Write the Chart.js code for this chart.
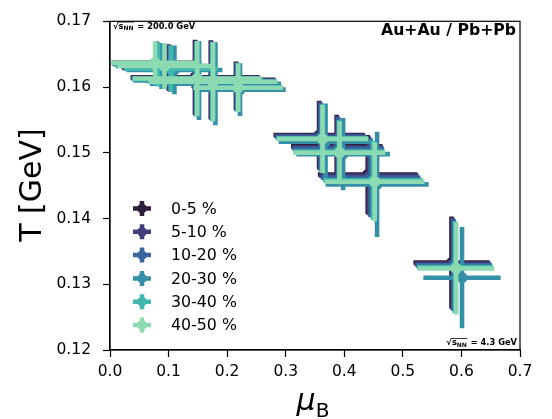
<!DOCTYPE html>
<html><head><meta charset="utf-8">
<script src="https://cdn.jsdelivr.net/npm/chart.js@4"></script>
<style>html,body{margin:0;padding:0;background:#fff;}canvas{display:block;}</style>
</head><body>
<canvas id="c" width="552" height="419"></canvas>
<script>
// ---- data ----
const centralityLabels = ['0-5 %', '5-10 %', '10-20 %', '20-30 %', '30-40 %', '40-50 %'];
const seriesColors = ['#2e1e3b', '#413d7b', '#37659e', '#348fa7', '#40b7ad', '#8bdab2'];
const xTicks = [0.0, 0.1, 0.2, 0.3, 0.4, 0.5, 0.6, 0.7];
const yTicks = [0.12, 0.13, 0.14, 0.15, 0.16, 0.17];
const topEnergyLabel = '200.0 GeV';
const bottomEnergyLabel = '4.3 GeV';
const systemLabel = 'Au+Au / Pb+Pb';

const muB_0_5   = [0.078, 0.100, 0.145, 0.172, 0.215, 0.357, 0.387, 0.440, 0.583];
const muB_5_10  = [0.079, 0.101, 0.146, 0.173, 0.216, 0.358, 0.388, 0.442, 0.585];
const muB_10_20 = [0.081, 0.103, 0.147, 0.174, 0.217, 0.360, 0.390, 0.445, 0.587];
const muB_20_30 = [0.088, 0.110, 0.152, 0.180, 0.222, 0.368, 0.398, 0.456, 0.601];
const muB_30_40 = [0.082, 0.104, 0.148, 0.175, 0.218, 0.362, 0.391, 0.449, 0.589];
const muB_40_50 = [0.077, 0.093, 0.149, 0.176, 0.219, 0.363, 0.392, 0.452, 0.591];

const T_0_5   = [0.1637, 0.1630, 0.1615, 0.1611, 0.1602, 0.1527, 0.1510, 0.1467, 0.1333];
const T_5_10  = [0.1636, 0.1629, 0.1614, 0.1610, 0.1601, 0.1526, 0.1508, 0.1465, 0.1331];
const T_10_20 = [0.1635, 0.1628, 0.1613, 0.1609, 0.1600, 0.1524, 0.1506, 0.1462, 0.1329];
const T_20_30 = [0.1632, 0.1626, 0.1610, 0.1605, 0.1596, 0.1517, 0.1498, 0.1452, 0.1310];
const T_30_40 = [0.1634, 0.1628, 0.1612, 0.1608, 0.1599, 0.1522, 0.1502, 0.1458, 0.1326];
const T_40_50 = [0.1637, 0.1632, 0.1613, 0.1608, 0.1599, 0.1521, 0.1500, 0.1456, 0.1324];

const muBErr       = [0.075, 0.080, 0.110, 0.110, 0.076, 0.078, 0.078, 0.085, 0.065];
const TErr         = [0.0033, 0.0035, 0.0057, 0.0060, 0.0037, 0.0052, 0.0048, 0.0060, 0.0070];
const muBErr_20_30 = [0.078, 0.082, 0.112, 0.112, 0.078, 0.080, 0.080, 0.088, 0.066];
const TErr_20_30   = [0.0035, 0.0037, 0.0060, 0.0063, 0.0040, 0.0058, 0.0055, 0.0080, 0.0077];

const muBSeries = [muB_0_5, muB_5_10, muB_10_20, muB_20_30, muB_30_40, muB_40_50];
const TSeries = [T_0_5, T_5_10, T_10_20, T_20_30, T_30_40, T_40_50];

const datasets = centralityLabels.map((label, s) => ({
  label: label,
  data: muBSeries[s].map((m, i) => ({
    x: m, y: TSeries[s][i],
    xe: s === 3 ? muBErr_20_30[i] : muBErr[i],
    ye: s === 3 ? TErr_20_30[i] : TErr[i]
  })),
  backgroundColor: seriesColors[s],
  borderColor: seriesColors[s],
  pointBackgroundColor: seriesColors[s],
  pointBorderColor: seriesColors[s],
  pointRadius: 5.5,
  pointBorderWidth: 0,
  order: centralityLabels.length - 1 - s
}));

const FONT = "'DejaVu Sans', sans-serif";

const errorBarPlugin = {
  id: 'errorBars',
  beforeDatasetDraw(chart, args) {
    const ds = chart.data.datasets[args.index];
    const xs = chart.scales.x, ys = chart.scales.y, ctx = chart.ctx, a = chart.chartArea;
    ctx.save();
    ctx.beginPath();
    ctx.rect(a.left, a.top, a.right - a.left, a.bottom - a.top);
    ctx.clip();
    ctx.strokeStyle = ds.borderColor;
    ctx.lineWidth = 4.6;
    ctx.lineCap = 'butt';
    ds.data.forEach(p => {
      const py = ys.getPixelForValue(p.y);
      ctx.beginPath();
      ctx.moveTo(xs.getPixelForValue(p.x - p.xe), py);
      ctx.lineTo(xs.getPixelForValue(p.x + p.xe), py);
      ctx.stroke();
    });
    ds.data.forEach(p => {
      const px = xs.getPixelForValue(p.x);
      ctx.beginPath();
      ctx.moveTo(px, ys.getPixelForValue(p.y - p.ye));
      ctx.lineTo(px, ys.getPixelForValue(p.y + p.ye));
      ctx.stroke();
    });
    ctx.restore();
  }
};

function drawSqrtS(ctx, xPos, baseline, energy, alignLeft) {
  const fs = 8.3;
  const main = "bold " + fs + "px " + FONT;
  const sub = "bold " + (fs * 0.72).toFixed(2) + "px " + FONT;
  ctx.font = main;
  const wRad = ctx.measureText('\u221A').width;
  const wS = ctx.measureText('s').width;
  ctx.font = sub;
  const wN = ctx.measureText('NN').width;
  ctx.font = main;
  const tail = ' = ' + energy;
  const wT = ctx.measureText(tail).width;
  const total = wRad + wS + wN + wT + 1;
  let x = alignLeft ? xPos : xPos - total;
  ctx.fillStyle = '#000';
  ctx.textAlign = 'left';
  ctx.textBaseline = 'alphabetic';
  ctx.fillText('\u221A', x, baseline);
  ctx.strokeStyle = '#000';
  ctx.lineWidth = 0.8;
  ctx.beginPath();
  ctx.moveTo(x + wRad - 0.5, baseline - fs * 0.78);
  ctx.lineTo(x + wRad + wS + wN + 0.5, baseline - fs * 0.78);
  ctx.stroke();
  x += wRad;
  ctx.fillText('s', x, baseline);
  x += wS;
  ctx.font = sub;
  ctx.fillText('NN', x, baseline + 1.6);
  x += wN + 1;
  ctx.font = main;
  ctx.fillText(tail, x, baseline);
}

const decorPlugin = {
  id: 'decor',
  afterDraw(chart) {
    const ctx = chart.ctx, a = chart.chartArea;
    ctx.save();
    ctx.strokeStyle = '#000';
    ctx.lineWidth = 1.2;
    ctx.strokeRect(a.left, a.top, a.right - a.left, a.bottom - a.top);

    // legend
    const lx = 142, ly0 = 208.5, dy = 23.3;
    chart.data.datasets.forEach((ds, i) => {
      const y = ly0 + i * dy;
      ctx.strokeStyle = ds.borderColor;
      ctx.fillStyle = ds.borderColor;
      ctx.lineWidth = 4.5;
      ctx.beginPath();
      ctx.moveTo(lx - 9, y); ctx.lineTo(lx + 9, y);
      ctx.moveTo(lx, y - 7.5); ctx.lineTo(lx, y + 7.5);
      ctx.stroke();
      ctx.beginPath();
      ctx.arc(lx, y, 4.8, 0, Math.PI * 2);
      ctx.fill();
      ctx.fillStyle = '#000';
      ctx.font = "15.8px " + FONT;
      ctx.textAlign = 'left';
      ctx.textBaseline = 'middle';
      ctx.fillText(ds.label, 171, y + 1);
    });

    ctx.fillStyle = '#000';
    ctx.font = "bold 15.7px " + FONT;
    ctx.textAlign = 'right';
    ctx.textBaseline = 'alphabetic';
    ctx.fillText(systemLabel, 516, 35);

    drawSqrtS(ctx, 113, 28.5, topEnergyLabel, true);
    drawSqrtS(ctx, 517, 345, bottomEnergyLabel, false);

    ctx.save();
    ctx.translate(33, 185);
    ctx.rotate(-Math.PI / 2);
    ctx.font = "30px " + FONT;
    ctx.textAlign = 'center';
    ctx.textBaseline = 'middle';
    ctx.fillStyle = '#000';
    ctx.fillText('T [GeV]', 0, 0);
    ctx.restore();

    ctx.font = "italic 30px " + FONT;
    const wMu = ctx.measureText('\u03BC').width;
    ctx.font = "20px " + FONT;
    const wB = ctx.measureText('B').width;
    const x0 = 313 - (wMu + wB) / 2;
    ctx.textAlign = 'left';
    ctx.textBaseline = 'alphabetic';
    ctx.font = "italic 30px " + FONT;
    ctx.fillText('\u03BC', x0, 410);
    ctx.font = "20px " + FONT;
    ctx.fillText('B', x0 + wMu, 417);
    ctx.restore();
  }
};

new Chart(document.getElementById('c'), {
  type: 'scatter',
  data: { datasets: datasets },
  options: {
    responsive: false,
    animation: false,
    events: [],
    layout: { padding: { left: 0, right: 32, top: 18, bottom: 0 } },
    plugins: { legend: { display: false }, tooltip: { enabled: false } },
    scales: {
      x: {
        type: 'linear', min: 0, max: 0.7,
        afterFit(s) { s.height = 69; },
        afterBuildTicks(s) { s.ticks = xTicks.map(v => ({ value: v })); },
        grid: { drawOnChartArea: false, drawTicks: true, tickLength: 7, tickColor: '#000', tickWidth: 1.2 },
        border: { display: true, color: '#000', width: 1.2 },
        ticks: { color: '#000', font: { family: FONT, size: 15.5 }, padding: 6, maxRotation: 0,
          callback: v => Number(v).toFixed(1) }
      },
      y: {
        type: 'linear', min: 0.12, max: 0.17,
        afterFit(s) { s.width = 110; },
        afterBuildTicks(s) { s.ticks = yTicks.map(v => ({ value: v })); },
        grid: { drawOnChartArea: false, drawTicks: true, tickLength: 7, tickColor: '#000', tickWidth: 1.2 },
        border: { display: true, color: '#000', width: 1.2 },
        ticks: { color: '#000', font: { family: FONT, size: 15.5 }, padding: 12,
          callback: v => Number(v).toFixed(2) }
      }
    }
  },
  plugins: [errorBarPlugin, decorPlugin]
});
</script>
</body></html>
